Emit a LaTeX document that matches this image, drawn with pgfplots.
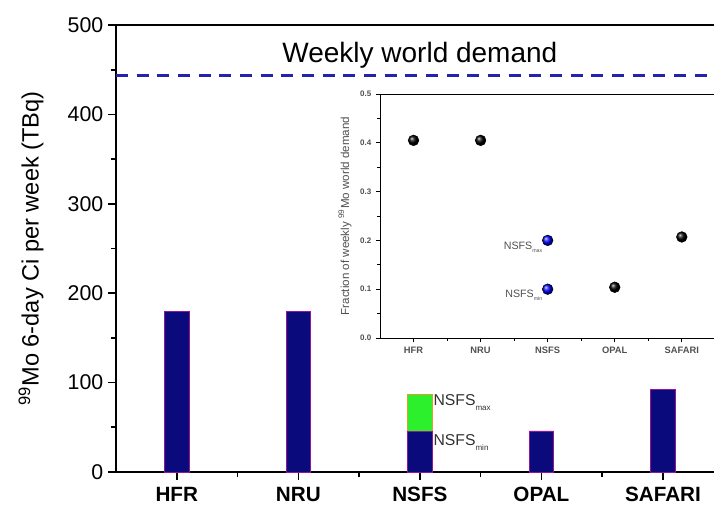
\documentclass[border=0pt]{standalone}
\usepackage{fontspec}
\setmainfont{Liberation Sans}
\usepackage{pgfplots}
\pgfplotsset{compat=1.18}
\definecolor{barnavy}{RGB}{10,10,125}
\definecolor{barborder}{RGB}{150,20,150}
\definecolor{bargreen}{RGB}{45,240,45}
\definecolor{greenborder}{RGB}{220,160,40}
\definecolor{demandblue}{RGB}{35,35,175}
\definecolor{txtgrey}{RGB}{50,50,50}
\definecolor{insetgrey}{RGB}{80,80,80}
\begin{document}
\begin{tikzpicture}
\begin{axis}[
  at={(0pt,0pt)}, anchor=south west,
  scale only axis, width=448.5pt, height=335.25pt,
  xmin=-0.5, xmax=4.42, ymin=0, ymax=500,
  axis lines*=left,
  axis line style={line width=1.2pt},
  every tick/.style={line width=1.2pt, black},
  tick align=outside,
  major tick length=6pt, minor tick length=3.8pt,
  xtick={0,1,2,3,4}, xticklabels={HFR,NRU,NSFS,OPAL,SAFARI},
  minor xtick={0.5,1.5,2.5,3.5},
  ytick={0,100,200,300,400,500}, minor ytick={50,150,250,350,450},
  /pgf/number format/assume math mode=true,
  x tick label style={font=\fontsize{15.5}{18}\selectfont\bfseries, yshift=-2pt},
  y tick label style={font=\fontsize{16}{18}\selectfont},
  ylabel={\textsuperscript{99}Mo 6-day Ci per week (TBq)},
  ylabel style={font=\fontsize{17.7}{21}\selectfont, at={(axis description cs:-0.142,0.5)}, anchor=center},
  clip=false,
]
\addplot[ybar, bar width=0.2, bar shift=0pt, fill=bargreen, draw=greenborder, line width=0.5pt] coordinates {(2,87)};
\addplot[ybar, bar width=0.2, bar shift=0pt, fill=barnavy, draw=barborder, line width=0.5pt] coordinates {(0,180) (1,180) (2,45) (3,46) (4,92)};
\addplot[demandblue, line width=2.2pt, dash pattern=on 9pt off 6.5pt] coordinates {(-0.5,444) (4.42,444)};
\draw[line width=1.2pt] (rel axis cs:0,1) -- (rel axis cs:1,1);
\node[font=\fontsize{21}{24}\selectfont] at (axis cs:2,466) {Weekly world demand};
\node[anchor=base west, inner sep=1pt, text=txtgrey, font=\fontsize{11.8}{14}\selectfont] at (axis cs:2.1,74) {NSFS\raisebox{-0.6ex}{\fontsize{6}{7}\selectfont max}};
\node[anchor=base west, inner sep=1pt, text=txtgrey, font=\fontsize{11.8}{14}\selectfont] at (axis cs:2.1,30) {NSFS\raisebox{-0.6ex}{\fontsize{6}{7}\selectfont min}};
\end{axis}
\begin{axis}[
  at={(198pt,100.5pt)}, anchor=south west,
  scale only axis, width=250.5pt, height=183pt,
  xmin=-0.5, xmax=4.48, ymin=0, ymax=0.5,
  axis lines*=left,
  axis background/.style={fill=white},
  axis line style={line width=0.6pt},
  every tick/.style={line width=0.6pt, black},
  tick align=outside,
  major tick length=3pt, minor tick length=2pt,
  xtick={0,1,2,3,4}, xticklabels={HFR,NRU,NSFS,OPAL,SAFARI},
  minor xtick={0.5,1.5,2.5,3.5},
  ytick={0,0.1,0.2,0.3,0.4,0.5}, minor ytick={0.05,0.15,0.25,0.35,0.45},
  /pgf/number format/assume math mode=true,
  /pgf/number format/fixed, /pgf/number format/fixed zerofill, /pgf/number format/precision=1,
  x tick label style={font=\fontsize{7}{8}\selectfont\bfseries, text=insetgrey},
  y tick label style={font=\fontsize{6}{7}\selectfont\bfseries, text=insetgrey},
  ylabel={Fraction of weekly \textsuperscript{99}Mo world demand},
  ylabel style={font=\fontsize{8.7}{10}\selectfont, text=insetgrey, at={(axis description cs:-0.105,0.5)}, anchor=center},
  clip=false,
]
\draw[line width=0.6pt] (rel axis cs:0,1) -- (rel axis cs:1,1);
\addplot[only marks, mark=ball, mark size=4pt, mark options={ball color=black}] coordinates {(0,0.405) (1,0.405) (3,0.104) (4,0.207)};
\addplot[only marks, mark=ball, mark size=4pt, mark options={ball color=blue}] coordinates {(2,0.2) (2,0.1)};
\node[anchor=base east, inner sep=0pt, text=insetgrey, font=\fontsize{8}{9}\selectfont] at (axis cs:1.925,0.182) {NSFS\raisebox{-0.6ex}{\fontsize{4}{5}\selectfont max}};
\node[anchor=base east, inner sep=0pt, text=insetgrey, font=\fontsize{8}{9}\selectfont] at (axis cs:1.925,0.084) {NSFS\raisebox{-0.6ex}{\fontsize{4}{5}\selectfont min}};
\end{axis}
\pgfresetboundingbox
\path[use as bounding box] (-87pt,-25.5pt) rectangle (448.5pt,354pt);
\end{tikzpicture}
\end{document}
